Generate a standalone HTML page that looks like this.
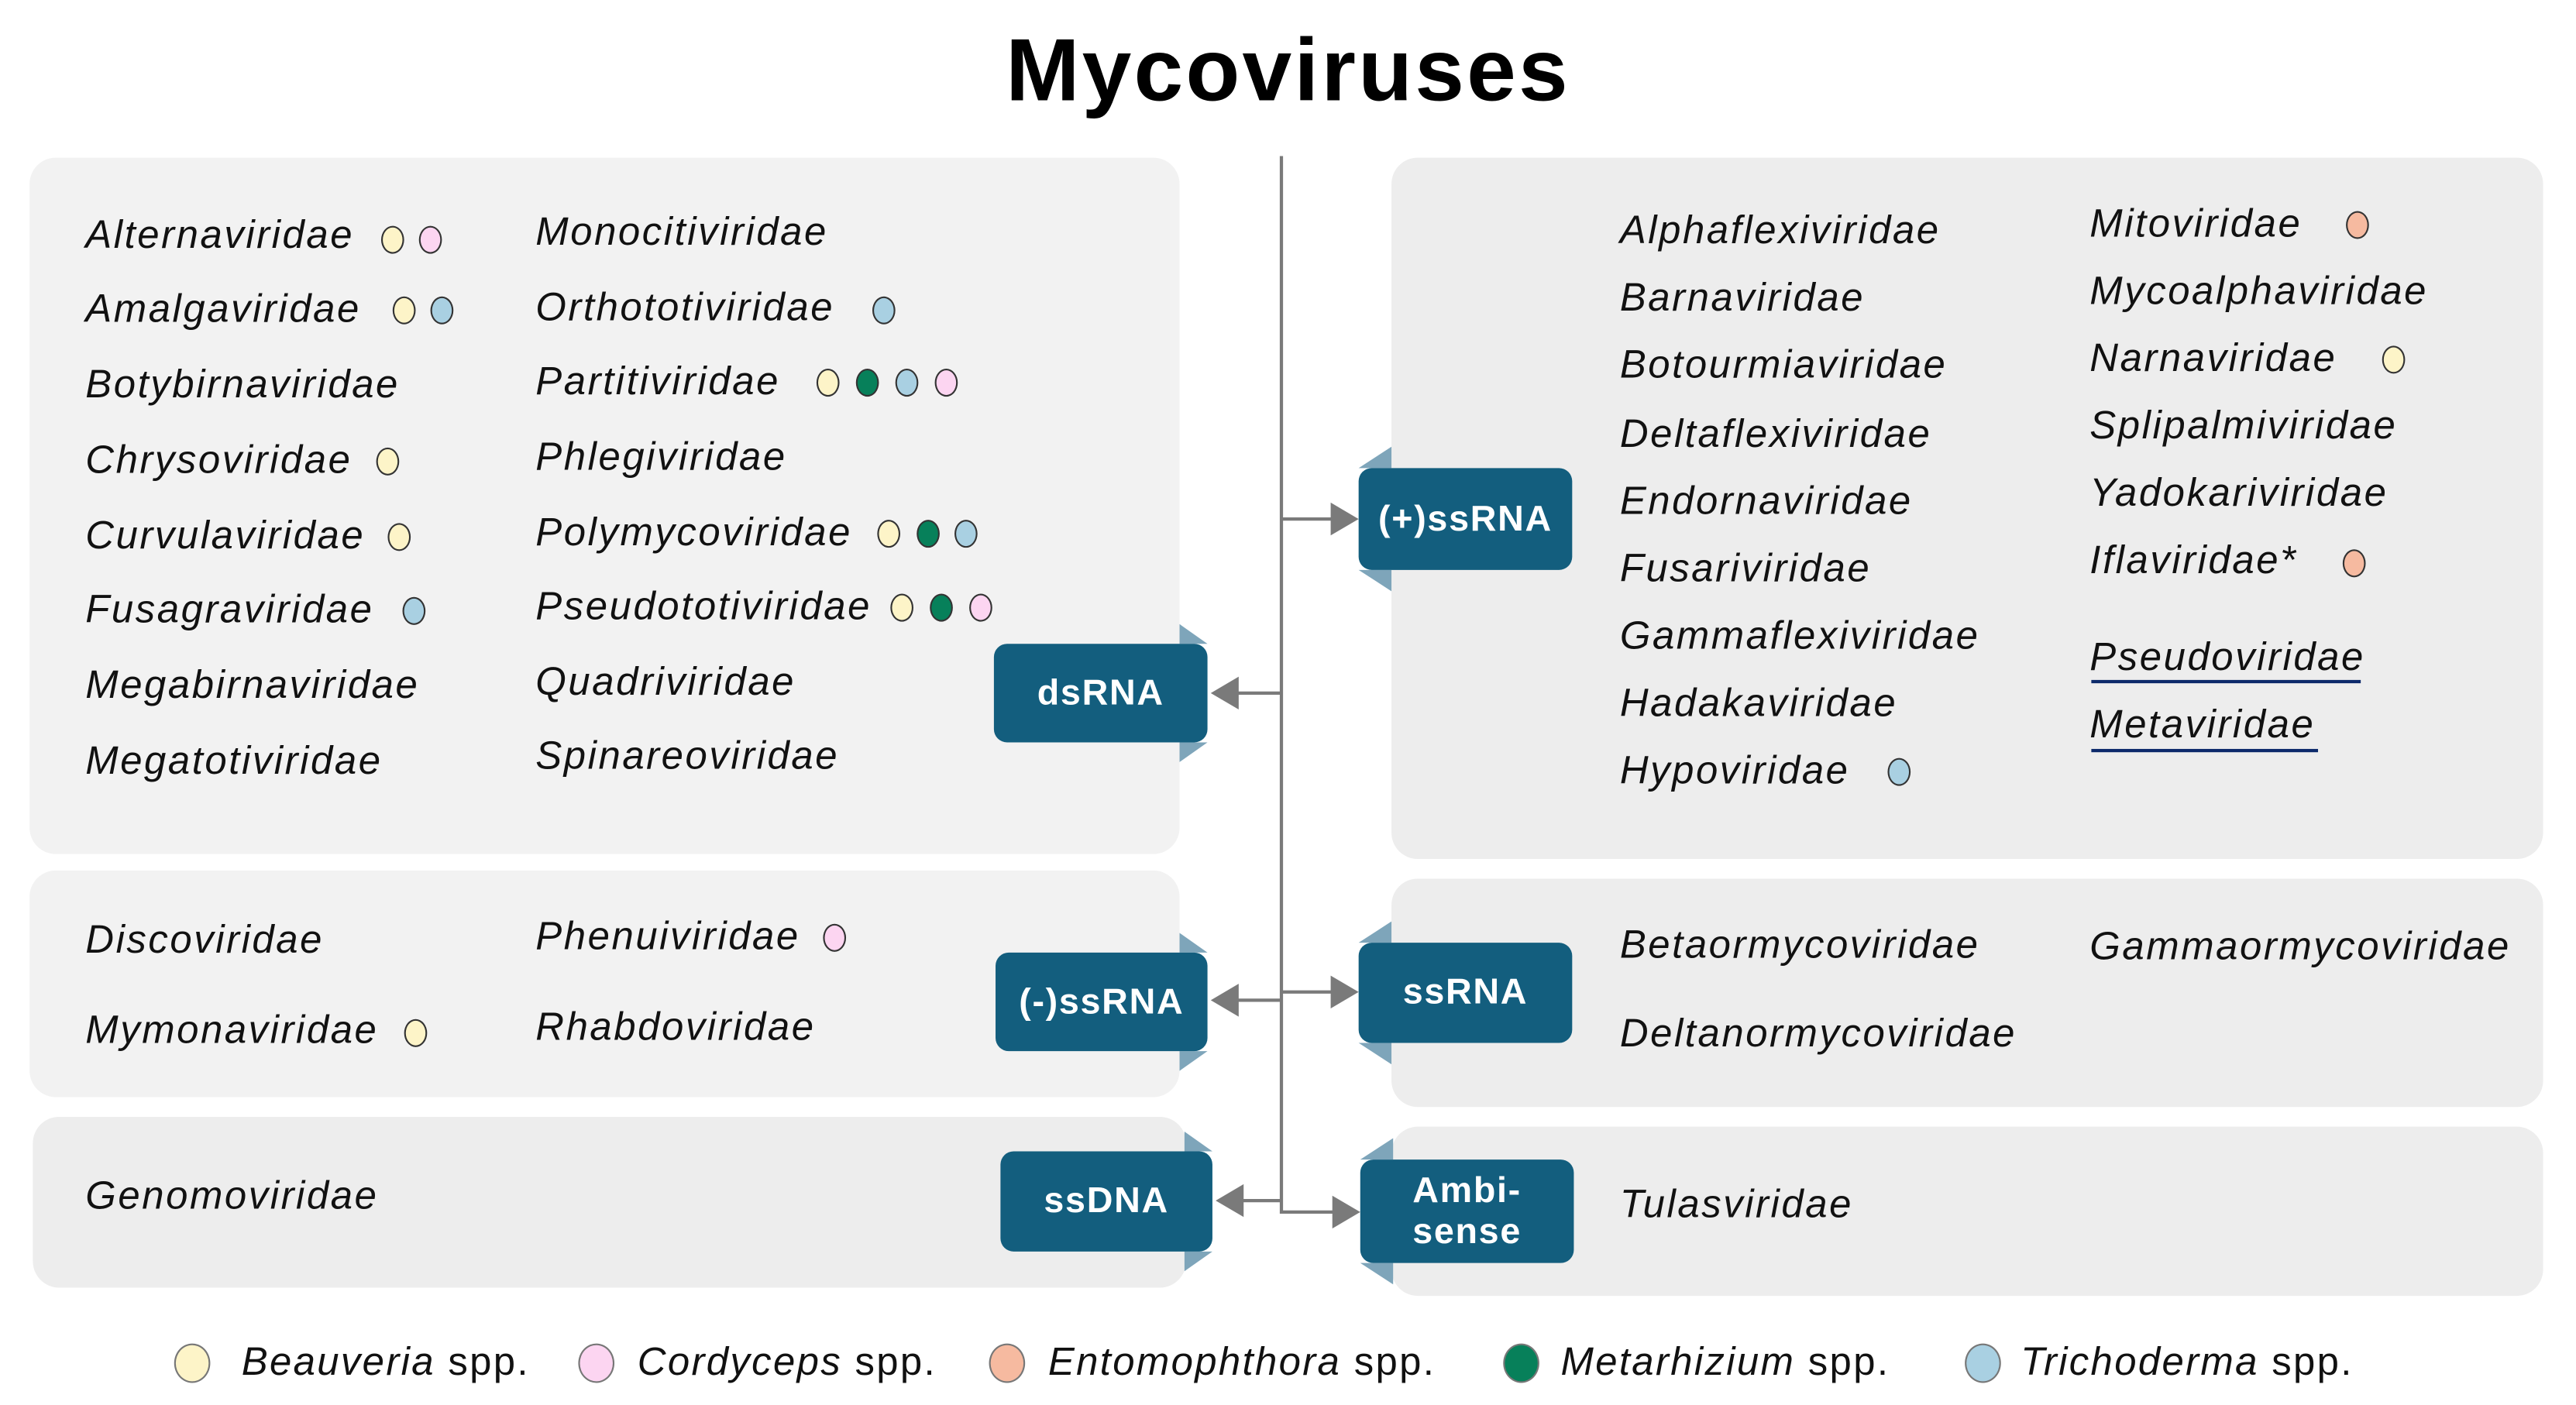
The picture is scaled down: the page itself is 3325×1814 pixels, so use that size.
<!DOCTYPE html>
<html><head><meta charset="utf-8"><style>
html,body{margin:0;padding:0;background:#fff;width:3325px;height:1814px;overflow:hidden}
#w{position:absolute;left:0;top:0;width:1568px;height:855px;transform:scale(2.1205);transform-origin:0 0;font-family:"Liberation Sans",sans-serif}
.p{position:absolute;border-radius:16px}
.L{background:#f2f2f2}.R{background:#ededed}
.t{position:absolute;font-style:italic;font-size:24px;color:#111;line-height:1;transform:translateY(-50%);white-space:nowrap;letter-spacing:1.2px}
.d{position:absolute;width:14px;height:17px;border-radius:50%;border:1px solid #333;box-sizing:border-box;transform:translate(-50%,-50%)}
.y{background:#fdf4c8}.k{background:#fcd5f1}.o{background:#f6baa0}.g{background:#07805a}.b{background:#a9d0e2}
.bx{position:absolute;background:#135e7e;color:#fff;font-weight:bold;font-size:22px;letter-spacing:0.8px;border-radius:8px;display:flex;align-items:center;justify-content:center;text-align:center;line-height:1.1}
.lg{position:absolute;font-size:24px;letter-spacing:1.1px;color:#111;transform:translateY(-50%);white-space:nowrap}
.ld{position:absolute;width:22px;height:24px;border-radius:50%;border:1px solid #777;box-sizing:border-box;transform:translate(-50%,-50%)}
</style></head><body><div id="w">
<div style="position:absolute;left:0;width:1568px;top:12px;text-align:center;font-weight:bold;font-size:54px;letter-spacing:1.5px;color:#000">Mycoviruses</div>

<div class="p L" style="left:18px;top:96px;width:700px;height:424px"></div>
<div class="p L" style="left:18px;top:530px;width:700px;height:138px"></div>
<div class="p R" style="left:20px;top:680px;width:702px;height:104px"></div>
<div class="p R" style="left:847px;top:96px;width:701px;height:427px"></div>
<div class="p R" style="left:847px;top:535px;width:701px;height:139px"></div>
<div class="p R" style="left:847px;top:686px;width:701px;height:103px"></div>

<svg style="position:absolute;left:0;top:0" width="1568" height="855">
<g fill="#7ea5ba">
<polygon points="718,380 735,392 718,392"/><polygon points="718,452 735,452 718,464"/>
<polygon points="718,568 735,580 718,580"/><polygon points="718,640 735,640 718,652"/>
<polygon points="721,689 738,701 721,701"/><polygon points="721,762 738,762 721,774"/>
<polygon points="847,272 827,285 847,285"/><polygon points="827,347 847,347 847,360"/>
<polygon points="847,561 827,574 847,574"/><polygon points="827,635 847,635 847,648"/>
<polygon points="848,693 828,706 848,706"/><polygon points="828,769 848,769 848,782"/>
</g>
<g stroke="#7a7a7a" stroke-width="2" fill="none">
<path d="M780,95 V738 H812"/>
<path d="M780,316 H812"/><path d="M780,422 H752"/><path d="M780,609 H752"/>
<path d="M780,604 H812"/><path d="M780,731 H755"/>
</g>
<g fill="#7a7a7a">
<polygon points="827,316 810,306 810,326"/><polygon points="737,422 754,412 754,432"/>
<polygon points="737,609 754,599 754,619"/><polygon points="827,604 810,594 810,614"/>
<polygon points="740,731 757,721 757,741"/><polygon points="828,738 811,728 811,748"/>
</g>
</svg>

<div class="bx" style="left:605px;top:392px;width:130px;height:60px">dsRNA</div>
<div class="bx" style="left:827px;top:285px;width:130px;height:62px">(+)ssRNA</div>
<div class="bx" style="left:606px;top:580px;width:129px;height:60px">(-)ssRNA</div>
<div class="bx" style="left:827px;top:574px;width:130px;height:61px">ssRNA</div>
<div class="bx" style="left:609px;top:701px;width:129px;height:61px">ssDNA</div>
<div class="bx" style="left:828px;top:706px;width:130px;height:63px">Ambi-<br>sense</div>

<div class="t" style="left:52px;top:144px">Alternaviridae</div>
<div class="t" style="left:52px;top:189px">Amalgaviridae</div>
<div class="t" style="left:52px;top:235px">Botybirnaviridae</div>
<div class="t" style="left:52px;top:281px">Chrysoviridae</div>
<div class="t" style="left:52px;top:327px">Curvulaviridae</div>
<div class="t" style="left:52px;top:372px">Fusagraviridae</div>
<div class="t" style="left:52px;top:418px">Megabirnaviridae</div>
<div class="t" style="left:52px;top:464px">Megatotiviridae</div>
<div class="t" style="left:326px;top:142px">Monocitiviridae</div>
<div class="t" style="left:326px;top:188px">Orthototiviridae</div>
<div class="t" style="left:326px;top:233px">Partitiviridae</div>
<div class="t" style="left:326px;top:279px">Phlegiviridae</div>
<div class="t" style="left:326px;top:325px">Polymycoviridae</div>
<div class="t" style="left:326px;top:370px">Pseudototiviridae</div>
<div class="t" style="left:326px;top:416px">Quadriviridae</div>
<div class="t" style="left:326px;top:461px">Spinareoviridae</div>

<div class="d y" style="left:239px;top:146px"></div><div class="d k" style="left:262px;top:146px"></div>
<div class="d y" style="left:246px;top:189px"></div><div class="d b" style="left:269px;top:189px"></div>
<div class="d y" style="left:236px;top:281px"></div>
<div class="d y" style="left:243px;top:327px"></div>
<div class="d b" style="left:252px;top:372px"></div>
<div class="d b" style="left:538px;top:189px"></div>
<div class="d y" style="left:504px;top:233px"></div><div class="d g" style="left:528px;top:233px"></div><div class="d b" style="left:552px;top:233px"></div><div class="d k" style="left:576px;top:233px"></div>
<div class="d y" style="left:541px;top:325px"></div><div class="d g" style="left:565px;top:325px"></div><div class="d b" style="left:588px;top:325px"></div>
<div class="d y" style="left:549px;top:370px"></div><div class="d g" style="left:573px;top:370px"></div><div class="d k" style="left:597px;top:370px"></div>

<div class="t" style="left:52px;top:573px">Discoviridae</div>
<div class="t" style="left:52px;top:628px">Mymonaviridae</div>
<div class="t" style="left:326px;top:571px">Phenuiviridae</div>
<div class="t" style="left:326px;top:626px">Rhabdoviridae</div>
<div class="d k" style="left:508px;top:571px"></div>
<div class="d y" style="left:253px;top:629px"></div>
<div class="t" style="left:52px;top:729px">Genomoviridae</div>

<div class="t" style="left:986px;top:141px">Alphaflexiviridae</div>
<div class="t" style="left:986px;top:182px">Barnaviridae</div>
<div class="t" style="left:986px;top:223px">Botourmiaviridae</div>
<div class="t" style="left:986px;top:265px">Deltaflexiviridae</div>
<div class="t" style="left:986px;top:306px">Endornaviridae</div>
<div class="t" style="left:986px;top:347px">Fusariviridae</div>
<div class="t" style="left:986px;top:388px">Gammaflexiviridae</div>
<div class="t" style="left:986px;top:429px">Hadakaviridae</div>
<div class="t" style="left:986px;top:470px">Hypoviridae</div>
<div class="t" style="left:1272px;top:137px">Mitoviridae</div>
<div class="t" style="left:1272px;top:178px">Mycoalphaviridae</div>
<div class="t" style="left:1272px;top:219px">Narnaviridae</div>
<div class="t" style="left:1272px;top:260px">Splipalmiviridae</div>
<div class="t" style="left:1272px;top:301px">Yadokariviridae</div>
<div class="t" style="left:1272px;top:342px">Iflaviridae*</div>
<div class="t" style="left:1272px;top:401px">Pseudoviridae</div>
<div class="t" style="left:1272px;top:442px">Metaviridae</div>
<div style="position:absolute;left:1273px;top:414px;width:164px;height:2px;background:#0d2a6b"></div>
<div style="position:absolute;left:1273px;top:456px;width:138px;height:2px;background:#0d2a6b"></div>
<div class="d o" style="left:1435px;top:137px"></div>
<div class="d y" style="left:1457px;top:219px"></div>
<div class="d o" style="left:1433px;top:343px"></div>
<div class="d b" style="left:1156px;top:470px"></div>

<div class="t" style="left:986px;top:576px">Betaormycoviridae</div>
<div class="t" style="left:986px;top:630px">Deltanormycoviridae</div>
<div class="t" style="left:1272px;top:577px">Gammaormycoviridae</div>
<div class="t" style="left:986px;top:734px">Tulasviridae</div>

<div class="ld y" style="left:117px;top:830px"></div><div class="lg" style="left:147px;top:830px"><i>Beauveria</i> spp.</div>
<div class="ld k" style="left:363px;top:830px"></div><div class="lg" style="left:388px;top:830px"><i>Cordyceps</i> spp.</div>
<div class="ld o" style="left:613px;top:830px"></div><div class="lg" style="left:638px;top:830px"><i>Entomophthora</i> spp.</div>
<div class="ld g" style="left:926px;top:830px"></div><div class="lg" style="left:950px;top:830px"><i>Metarhizium</i> spp.</div>
<div class="ld b" style="left:1207px;top:830px"></div><div class="lg" style="left:1230px;top:830px"><i>Trichoderma</i> spp.</div>
</div></body></html>
